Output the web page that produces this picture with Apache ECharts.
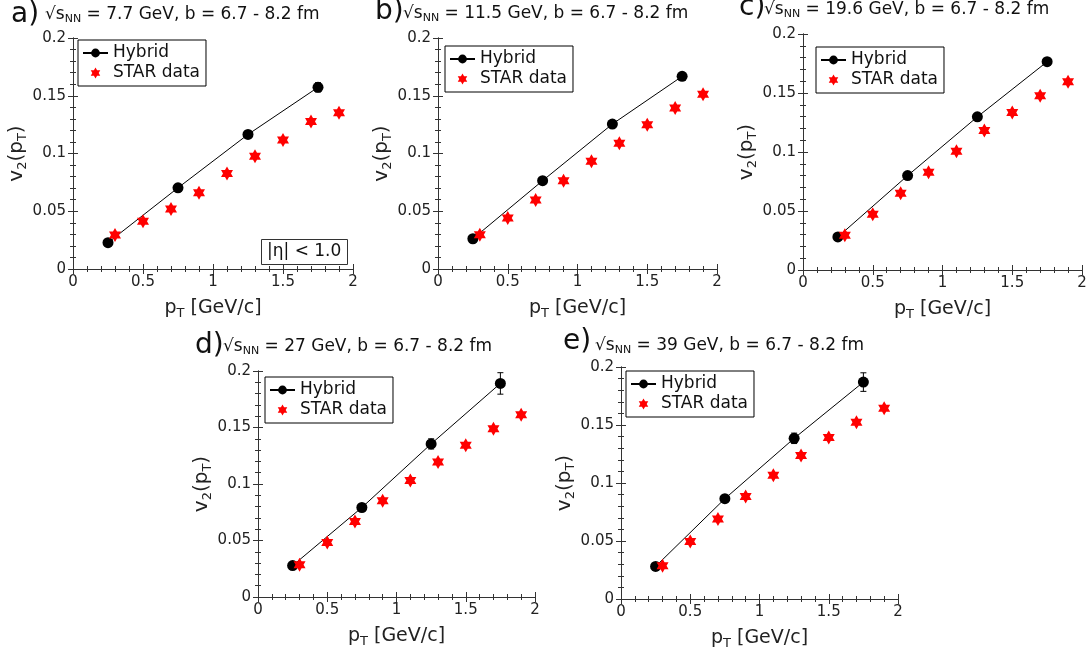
<!DOCTYPE html>
<html>
<head>
<meta charset="utf-8">
<script src="https://cdn.jsdelivr.net/npm/echarts@6/dist/echarts.min.js"></script>
<style>html,body{margin:0;padding:0;background:#fff}#c{width:1091px;height:657px}</style>
</head>
<body>
<div id="c"></div>
<script>
// ---- data ----
const panelLetters = ['a)', 'b)', 'c)', 'd)', 'e)'];
const energies = ['7.7', '11.5', '19.6', '27', '39'];
const pT_hybrid = [0.25, 0.75, 1.25, 1.75];
const pT_star = [0.3, 0.5, 0.7, 0.9, 1.1, 1.3, 1.5, 1.7, 1.9];

const hybrid_7_7  = [0.0228, 0.0703, 0.1165, 0.1573];
const hybrid_11_5 = [0.0262, 0.0765, 0.1255, 0.1668];
const hybrid_19_6 = [0.0280, 0.0800, 0.1298, 0.1765];
const hybrid_27   = [0.0278, 0.0792, 0.1355, 0.1890];
const hybrid_39   = [0.0281, 0.0865, 0.1385, 0.1870];

const hybridErr_7_7  = [0.001, 0.001, 0.002, 0.004];
const hybridErr_11_5 = [0.001, 0.001, 0.001, 0.002];
const hybridErr_19_6 = [0.001, 0.001, 0.002, 0.002];
const hybridErr_27   = [0.001, 0.002, 0.0045, 0.0095];
const hybridErr_39   = [0.001, 0.002, 0.0045, 0.0080];

const star_7_7  = [0.0295, 0.0413, 0.0520, 0.0660, 0.0827, 0.0977, 0.1116, 0.1277, 0.1353];
const star_11_5 = [0.0297, 0.0442, 0.0597, 0.0765, 0.0932, 0.1088, 0.1250, 0.1394, 0.1512];
const star_19_6 = [0.0294, 0.0472, 0.0650, 0.0829, 0.1007, 0.1182, 0.1335, 0.1477, 0.1595];
const star_27   = [0.0286, 0.0482, 0.0668, 0.0852, 0.1030, 0.1195, 0.1342, 0.1490, 0.1612];
const star_39   = [0.0287, 0.0496, 0.0690, 0.0883, 0.1066, 0.1238, 0.1392, 0.1523, 0.1645];

const xTicks = [0, 0.5, 1, 1.5, 2];
const yTicks = [0, 0.05, 0.1, 0.15, 0.2];
const etaLabel = '|η| < 1.0';

const hybridSets = [hybrid_7_7, hybrid_11_5, hybrid_19_6, hybrid_27, hybrid_39];
const hybridErrSets = [hybridErr_7_7, hybridErr_11_5, hybridErr_19_6, hybridErr_27, hybridErr_39];
const starSets = [star_7_7, star_11_5, star_19_6, star_27, star_39];

// ---- layout (positions only) ----
const layout = [
  {left: 73,  top: 38,  width: 280, height: 231, lx: 11,  ly: 15, tx: 45,  ty: 4,   gx: 78,  gy: 40},
  {left: 438, top: 38,  width: 279, height: 231, lx: 375, ly: 12, tx: 403, ty: 3,   gx: 445, gy: 46},
  {left: 803, top: 34,  width: 279, height: 236, lx: 739, ly: 8,  tx: 764, ty: -1,  gx: 816, gy: 47},
  {left: 258, top: 371, width: 277, height: 226, lx: 195, ly: 346, tx: 223, ty: 336, gx: 265, gy: 377},
  {left: 621, top: 367, width: 277, height: 232, lx: 563, ly: 342, tx: 595, ty: 335, gx: 626, gy: 371}
];

const FONT = 'DejaVu Sans';
const AX = '#333';
const hexPath = 'path://M0,-100L28.87,-50L86.6,-50L57.74,0L86.6,50L28.87,50L0,100L-28.87,50L-86.6,50L-57.74,0L-86.6,-50L-28.87,-50Z';

const grids = [], xAxes = [], yAxes = [], series = [], titles = [], legends = [], graphics = [];

function axisCommon(showLabel) {
  return {
    axisLine: {show: true, lineStyle: {color: AX, width: 1}},
    axisTick: {show: true, inside: true, length: 5, lineStyle: {color: AX}},
    minorTick: {show: true, splitNumber: 5, length: 3, lineStyle: {color: AX}},
    splitLine: {show: false},
    axisLabel: {show: showLabel, fontFamily: FONT, fontSize: 15, color: '#222'}
  };
}

layout.forEach((L, i) => {
  grids.push({left: L.left, top: L.top, width: L.width, height: L.height, containLabel: false});
  const xb = Object.assign(axisCommon(true), {
    type: 'value', gridIndex: i, position: 'bottom', min: xTicks[0], max: xTicks[xTicks.length - 1], interval: xTicks[1] - xTicks[0],
    name: '{m|p}{s|T}{m| [GeV/c]}', nameLocation: 'middle', nameGap: 28,
    nameTextStyle: {rich: {
      m: {fontFamily: FONT, fontSize: 19, fontWeight: 'normal', color: '#222', lineHeight: 22, verticalAlign: 'middle'},
      s: {fontFamily: FONT, fontSize: 13, fontWeight: 'normal', color: '#222', lineHeight: 13, padding: [10, 0, 0, 0], verticalAlign: 'top'}
    }}
  });
  xb.axisLabel.margin = 6;
  const xt = Object.assign(axisCommon(false), {
    type: 'value', gridIndex: i, position: 'top', min: xTicks[0], max: xTicks[xTicks.length - 1], interval: xTicks[1] - xTicks[0]
  });
  const yl = Object.assign(axisCommon(true), {
    type: 'value', gridIndex: i, position: 'left', min: yTicks[0], max: yTicks[yTicks.length - 1], interval: yTicks[1] - yTicks[0],
    name: '{m|v}{s|2}{m|(p}{s|T}{m|)}', nameLocation: 'middle', nameGap: 39,
    nameTextStyle: {rich: {
      m: {fontFamily: FONT, fontSize: 20, fontWeight: 'normal', color: '#222', lineHeight: 22, verticalAlign: 'middle'},
      s: {fontFamily: FONT, fontSize: 13, fontWeight: 'normal', color: '#222', lineHeight: 13, padding: [10, 0, 0, 0], verticalAlign: 'top'}
    }}
  });
  yl.axisLabel.margin = 7;
  const yr = Object.assign(axisCommon(false), {
    type: 'value', gridIndex: i, position: 'right', min: yTicks[0], max: yTicks[yTicks.length - 1], interval: yTicks[1] - yTicks[0]
  });
  xAxes.push(xb, xt);
  yAxes.push(yl, yr);

  const hy = hybridSets[i], he = hybridErrSets[i], st = starSets[i];
  series.push({
    type: 'custom', name: 'Hybrid err', xAxisIndex: 2 * i, yAxisIndex: 2 * i,
    data: pT_hybrid.map((x, k) => [x, hy[k], he[k]]),
    renderItem: function (params, api) {
      const x = api.value(0), y = api.value(1), e = api.value(2);
      const p1 = api.coord([x, y + e]), p2 = api.coord([x, y - e]);
      const cap = 3, st = {stroke: '#000', lineWidth: 1};
      return {type: 'group', children: [
        {type: 'line', shape: {x1: p1[0], y1: p1[1], x2: p2[0], y2: p2[1]}, style: st},
        {type: 'line', shape: {x1: p1[0] - cap, y1: p1[1], x2: p1[0] + cap, y2: p1[1]}, style: st},
        {type: 'line', shape: {x1: p2[0] - cap, y1: p2[1], x2: p2[0] + cap, y2: p2[1]}, style: st}
      ]};
    },
    silent: true, z: 2
  });
  series.push({
    type: 'line', name: 'Hybrid', xAxisIndex: 2 * i, yAxisIndex: 2 * i,
    data: pT_hybrid.map((x, k) => [x, hy[k]]),
    symbol: 'circle', symbolSize: 11, showAllSymbol: true,
    lineStyle: {color: '#000', width: 1}, itemStyle: {color: '#000', opacity: 1},
    animation: false, z: 3
  });
  series.push({
    type: 'scatter', name: 'STAR data', xAxisIndex: 2 * i, yAxisIndex: 2 * i,
    data: pT_star.map((x, k) => [x, st[k]]),
    symbol: hexPath, symbolSize: [12, 14],
    itemStyle: {color: '#ff0000', opacity: 1}, animation: false, z: 4
  });

  legends.push({
    left: L.gx, top: L.gy, orient: 'vertical',
    data: [{name: 'Hybrid'}, {name: 'STAR data', icon: hexPath}],
    selectedMode: false,
    borderColor: '#000', borderWidth: 1, borderRadius: 0,
    backgroundColor: '#fff',
    padding: [3, 6, 3, 4], itemGap: 0, itemWidth: 25, itemHeight: 11,
    textStyle: {fontFamily: FONT, fontSize: 17, color: '#111', lineHeight: 20}
  });

  titles.push({
    left: L.tx, top: L.ty, padding: 0,
    text: '{t|√s}{s|NN}{t| = ' + energies[i] + ' GeV, b = 6.7 - 8.2 fm}',
    textStyle: {fontWeight: 'normal', rich: {
      t: {fontFamily: FONT, fontSize: 17, fontWeight: 'normal', color: '#111', lineHeight: 21, verticalAlign: 'middle'},
      s: {fontFamily: FONT, fontSize: 11, fontWeight: 'normal', color: '#111', lineHeight: 11, padding: [10, 0, 0, 0], verticalAlign: 'top'}
    }}
  });

  graphics.push({
    type: 'text', x: L.lx, y: L.ly,
    style: {text: panelLetters[i], font: '28px "DejaVu Sans"', fill: '#111', verticalAlign: 'middle', align: 'left'}
  });
});

titles.push({
  left: 261, top: 239, padding: [3, 6, 3, 6], borderColor: '#333', borderWidth: 1,
  text: etaLabel,
  textStyle: {fontFamily: FONT, fontSize: 17, fontWeight: 'normal', color: '#111', lineHeight: 20}
});

const chart = echarts.init(document.getElementById('c'), null, {renderer: 'canvas'});
chart.setOption({
  backgroundColor: '#fff',
  animation: false,
  title: titles,
  legend: legends,
  grid: grids,
  xAxis: xAxes,
  yAxis: yAxes,
  series: series,
  graphic: graphics
});
</script>
</body>
</html>
